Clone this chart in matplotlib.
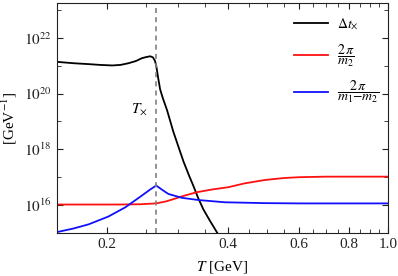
import numpy as np
import matplotlib
matplotlib.use('Agg')
import matplotlib.pyplot as plt
from matplotlib.ticker import FixedLocator, NullFormatter, FuncFormatter

plt.rcParams['font.family'] = ['Liberation Serif', 'DejaVu Serif']
plt.rcParams['mathtext.fontset'] = 'stix'

# values (T in GeV, log10 of the value in GeV^-1)
T_black = [0.150, 0.165, 0.179, 0.192, 0.206, 0.216, 0.226, 0.236, 0.244, 0.250, 0.256,
           0.260, 0.263, 0.265, 0.268, 0.271, 0.275, 0.282, 0.292, 0.300, 0.310, 0.320,
           0.328, 0.337, 0.347, 0.360, 0.376, 0.385]
lg_black = [21.14, 21.09, 21.06, 21.03, 21.01, 21.03, 21.09, 21.17, 21.27, 21.31, 21.34,
            21.30, 21.18, 21.00, 20.55, 20.15, 19.85, 19.40, 18.65, 18.15, 17.55, 17.05,
            16.68, 16.25, 15.85, 15.45, 15.00, 14.75]

T_red = [0.150, 0.180, 0.215, 0.242, 0.265, 0.280, 0.292, 0.310, 0.334, 0.365, 0.400,
         0.440, 0.494, 0.550, 0.600, 0.700, 0.800, 1.000]
lg_red = [16.02, 16.02, 16.02, 16.03, 16.06, 16.13, 16.21, 16.33, 16.46, 16.56, 16.64,
          16.78, 16.90, 16.97, 17.00, 17.02, 17.02, 17.02]

T_blue = [0.150, 0.165, 0.180, 0.2015, 0.222, 0.244, 0.256, 0.265, 0.274, 0.284, 0.307,
          0.338, 0.393, 0.494, 0.600, 0.800, 1.000]
lg_blue = [15.03, 15.16, 15.31, 15.59, 15.92, 16.34, 16.56, 16.70, 16.55, 16.40, 16.26,
           16.18, 16.10, 16.07, 16.06, 16.06, 16.06]

T_cross = 0.265
labels = [r'$\Delta t_{\times}$', r'$\dfrac{2\,\pi}{m_2}$', r'$\dfrac{2\,\pi}{m_1{-}m_2}$']

fig = plt.figure(figsize=(3.98, 2.76), dpi=100)
ax = fig.add_axes([0.143, 0.156, 0.832, 0.833])

ax.plot(T_black, 10 ** np.array(lg_black), color='black', lw=1.3, label=labels[0])
ax.plot(T_red, 10 ** np.array(lg_red), color='#ff1010', lw=1.3, label=labels[1])
ax.plot(T_blue, 10 ** np.array(lg_blue), color='#1010ff', lw=1.3, label=labels[2])
ax.axvline(T_cross, color='gray', ls=(0, (3, 2.5)), lw=1.2)
ax.text(0.252, 10 ** 19.45, r'$T_{\times}$', fontsize=11, ha='right', va='center')

ax.set_xscale('log')
ax.set_yscale('log')
ax.set_xlim(0.15, 1.0)
ax.set_ylim(1e15, 10 ** 23.25)

xmaj = [0.2, 0.4, 0.6, 0.8, 1.0]
ax.xaxis.set_major_locator(FixedLocator(xmaj))
ax.xaxis.set_major_formatter(FuncFormatter(lambda v, p: f'{v:.1f}'))
ax.xaxis.set_minor_locator(FixedLocator(np.arange(0.15, 1.0, 0.05)))
ax.xaxis.set_minor_formatter(NullFormatter())

ax.yaxis.set_major_locator(FixedLocator([1e16, 1e18, 1e20, 1e22]))
ax.yaxis.set_major_formatter(FuncFormatter(lambda v, p: r'$10^{%d}$' % round(np.log10(v))))
ax.yaxis.set_minor_locator(FixedLocator([1e15, 1e17, 1e19, 1e21, 1e23]))
ax.yaxis.set_minor_formatter(NullFormatter())

ax.tick_params(which='both', direction='in', top=True, right=True, labelsize=11, colors='#222222')
ax.tick_params(which='major', length=4)
ax.tick_params(which='minor', length=3)
for s in ax.spines.values():
    s.set_color('#222222')

ax.set_xlabel(r'$T$ [GeV]', fontsize=11, labelpad=6)
ax.set_ylabel(r'[GeV$^{-1}$]', fontsize=11, labelpad=4)

ax.legend(loc='upper left', frameon=False, fontsize=10, handlelength=2.45,
          handletextpad=0.65, labelspacing=0.75, borderaxespad=0.0,
          bbox_to_anchor=(0.70, 0.966))

fig.savefig('out.png', dpi=100)
